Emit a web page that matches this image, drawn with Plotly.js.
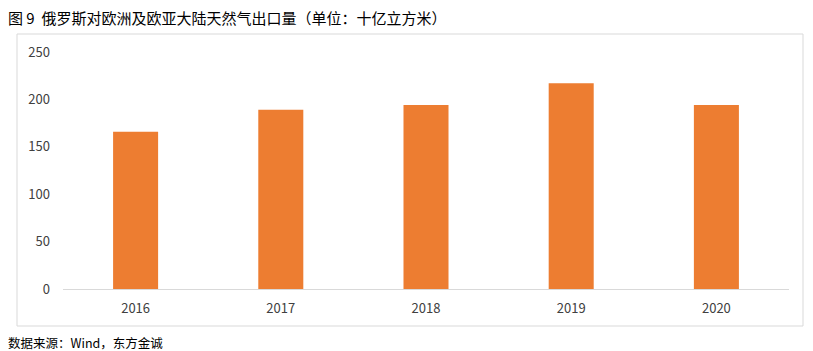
<!DOCTYPE html>
<html>
<head>
<meta charset="utf-8">
<script src="https://cdn.plot.ly/plotly-3.0.1.min.js"></script>
<style>html,body{margin:0;padding:0;background:#fff;}#chart{width:813px;height:351px;}</style>
</head>
<body>
<div id="chart"></div>
<script>
const years = ['2016', '2017', '2018', '2019', '2020'];
const exports = [166, 189, 194, 217, 194];
const yTicks = [0, 50, 100, 150, 200, 250];
const titleText = '图 9  俄罗斯对欧洲及欧亚大陆天然气出口量（单位：十亿立方米）';
const sourceText = '数据来源：Wind，东方金诚';

const font = '"Noto Sans CJK SC", "Noto Sans", sans-serif';
const W = 813, H = 351, L = 63, R = 24, T = 52, B = 62;
const pw = W - L - R, ph = H - T - B;
const px = x => (x - L) / pw;
const py = y => (H - B - y) / ph;

Plotly.newPlot('chart', [{
  type: 'bar',
  x: years,
  y: exports,
  marker: {color: '#ED7D31'},
  hoverinfo: 'none'
}], {
  width: W, height: H,
  margin: {l: L, r: R, t: T, b: B, pad: 0},
  paper_bgcolor: '#fff', plot_bgcolor: '#fff',
  bargap: 0.69,
  showlegend: false,
  font: {family: font, size: 13, color: '#404040'},
  xaxis: {
    type: 'category', showgrid: false, zeroline: false,
    showline: true, linecolor: '#d9d9d9', linewidth: 1,
    ticks: '', ticklen: 0, tickfont: {size: 13, color: '#404040'},
    ticklabelstandoff: 7
  },
  yaxis: {
    range: [0, 250], tickvals: yTicks, showgrid: false, zeroline: false,
    showline: false, ticks: '', tickfont: {size: 13, color: '#404040'},
    ticklabelstandoff: 12
  },
  shapes: [{
    type: 'rect', xref: 'paper', yref: 'paper',
    x0: px(17), x1: px(803), y0: py(326), y1: py(34),
    line: {color: '#d9d9d9', width: 1}, fillcolor: 'rgba(0,0,0,0)', layer: 'below'
  }],
  annotations: [
    {text: titleText, xref: 'paper', yref: 'paper', x: px(6), y: py(18),
     xanchor: 'left', yanchor: 'middle', showarrow: false,
     font: {family: font, size: 15, color: '#000'}},
    {text: sourceText, xref: 'paper', yref: 'paper', x: px(6), y: py(342),
     xanchor: 'left', yanchor: 'middle', showarrow: false,
     font: {family: font, size: 12.5, color: '#000'}}
  ]
}, {displayModeBar: false, staticPlot: true});
</script>
</body>
</html>
